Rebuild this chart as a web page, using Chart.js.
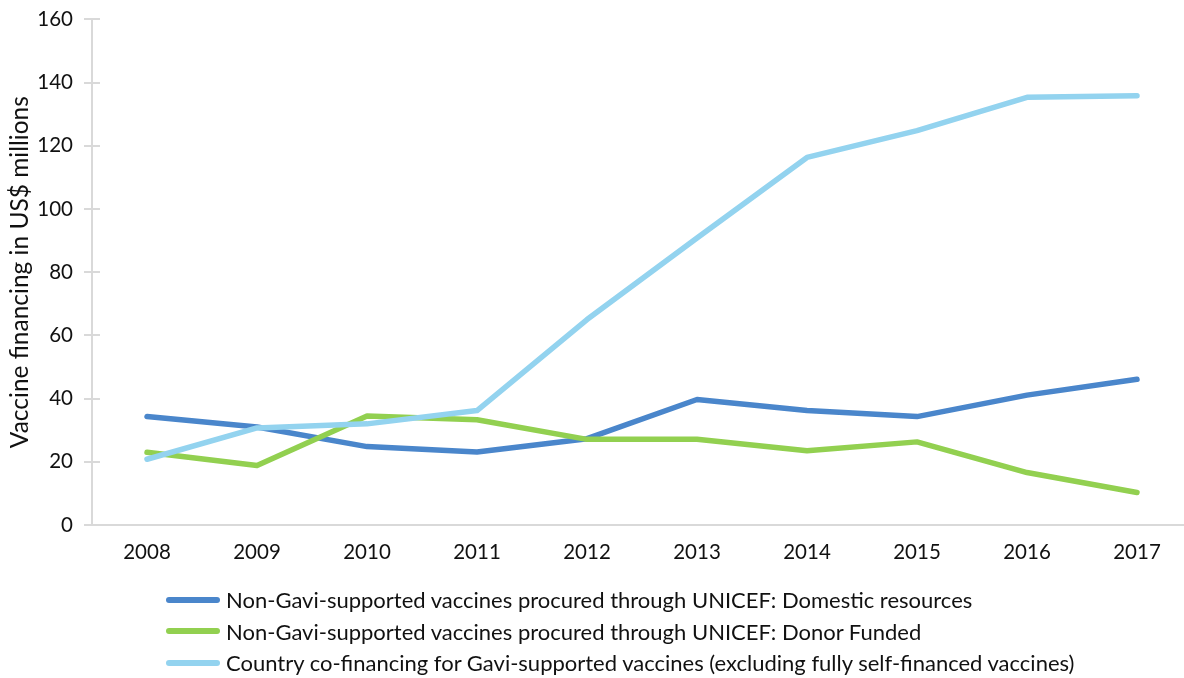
<!DOCTYPE html>
<html>
<head>
<meta charset="utf-8">
<script src="https://cdn.jsdelivr.net/npm/chart.js@4/dist/chart.umd.min.js"></script>
<style>
  html, body { margin: 0; padding: 0; background: #fff; overflow: hidden; width: 1184px; height: 678px; }
  #wrap { position: relative; width: 1200px; height: 678px; overflow: hidden; }
  #c { position: absolute; left: 0; top: -12px; }
  #legend { position: absolute; left: 166px; top: 584px; font-family: Lato, "Open Sans", sans-serif; font-size: 22px; color: #111; }
  .row { display: flex; align-items: center; height: 31.5px; white-space: nowrap; }
  .sw { width: 54px; height: 6px; border-radius: 3px; margin-right: 6px; }
</style>
</head>
<body>
<div id="wrap">
  <canvas id="c" width="1200" height="690"></canvas>
  <div id="legend"></div>
</div>
<script>
const years = ["2008","2009","2010","2011","2012","2013","2014","2015","2016","2017"];
const seriesNames = [
  "Non-Gavi-supported vaccines procured through UNICEF: Domestic resources",
  "Non-Gavi-supported vaccines procured through UNICEF: Donor Funded",
  "Country co-financing for Gavi-supported vaccines (excluding fully self-financed vaccines)"
];
const domestic    = [34.3, 31.0, 24.8, 23.1, 27.3, 39.7, 36.2, 34.3, 41.1, 46.1];
const donorFunded = [23.0, 18.8, 34.5, 33.3, 27.1, 27.1, 23.5, 26.3, 16.6, 10.3];
const coFinancing = [20.8, 30.7, 32.0, 36.2, 65.0, 90.8, 116.3, 124.8, 135.3, 135.8];
const yTicks = [0, 20, 40, 60, 80, 100, 120, 140, 160];
const yTitle = "Vaccine financing in US$ millions";
const colors = ["#4A86CB", "#92D050", "#93D3EF"];

const FONT = "Lato, 'Open Sans', sans-serif";
const axisGrey = "#D9D9D9";

const crossTicks = {
  id: 'crossTicks',
  afterDatasetsDraw(chart) {
    const y = chart.scales.y, ctx = chart.ctx;
    const x0 = chart.chartArea.left;
    ctx.save();
    ctx.strokeStyle = axisGrey;
    ctx.lineWidth = 2;
    yTicks.forEach(v => {
      const py = Math.round(y.getPixelForValue(v));
      ctx.beginPath();
      ctx.moveTo(x0 - 8, py);
      ctx.lineTo(x0 + 8, py);
      ctx.stroke();
    });
    ctx.restore();
  }
};

const datasets = [domestic, donorFunded, coFinancing].map((d, i) => ({
  label: seriesNames[i],
  data: d,
  borderColor: colors[i],
  backgroundColor: colors[i],
  borderWidth: 5.5,
  borderCapStyle: 'round',
  borderJoinStyle: 'round',
  pointRadius: 0,
  tension: 0,
  fill: false,
  order: 3 - i
}));

const chart = new Chart(document.getElementById('c'), {
  type: 'line',
  data: { labels: years, datasets },
  options: {
    responsive: false,
    animation: false,
    layout: { padding: { left: 0, right: 8, top: 17, bottom: 0 } },
    plugins: { legend: { display: false }, tooltip: { enabled: false } },
    scales: {
      x: {
        offset: true,
        grid: { display: false, drawTicks: false },
        border: { display: true, color: axisGrey, width: 2 },
        ticks: { color: '#111', font: { family: FONT, size: 20.5 }, padding: 15, maxRotation: 0 },
        afterFit(s) { s.height = 153; }
      },
      y: {
        min: 0, max: 160,
        afterBuildTicks(s) { s.ticks = yTicks.map(v => ({ value: v })); },
        grid: { display: false, drawTicks: false },
        border: { display: true, color: axisGrey, width: 2 },
        ticks: { color: '#111', font: { family: FONT, size: 20.5 }, padding: 19 },
        title: { display: true, text: yTitle, color: '#111', font: { family: FONT, size: 24.5 }, padding: { top: 5, bottom: 0 } },
        afterFit(s) { s.width = 92; }
      }
    }
  },
  plugins: [crossTicks]
});

const leg = document.getElementById('legend');
seriesNames.forEach((n, i) => {
  const r = document.createElement('div'); r.className = 'row';
  const sw = document.createElement('div'); sw.className = 'sw'; sw.style.background = colors[i];
  const t = document.createElement('span'); t.textContent = n;
  r.appendChild(sw); r.appendChild(t); leg.appendChild(r);
});
</script>
</body>
</html>
